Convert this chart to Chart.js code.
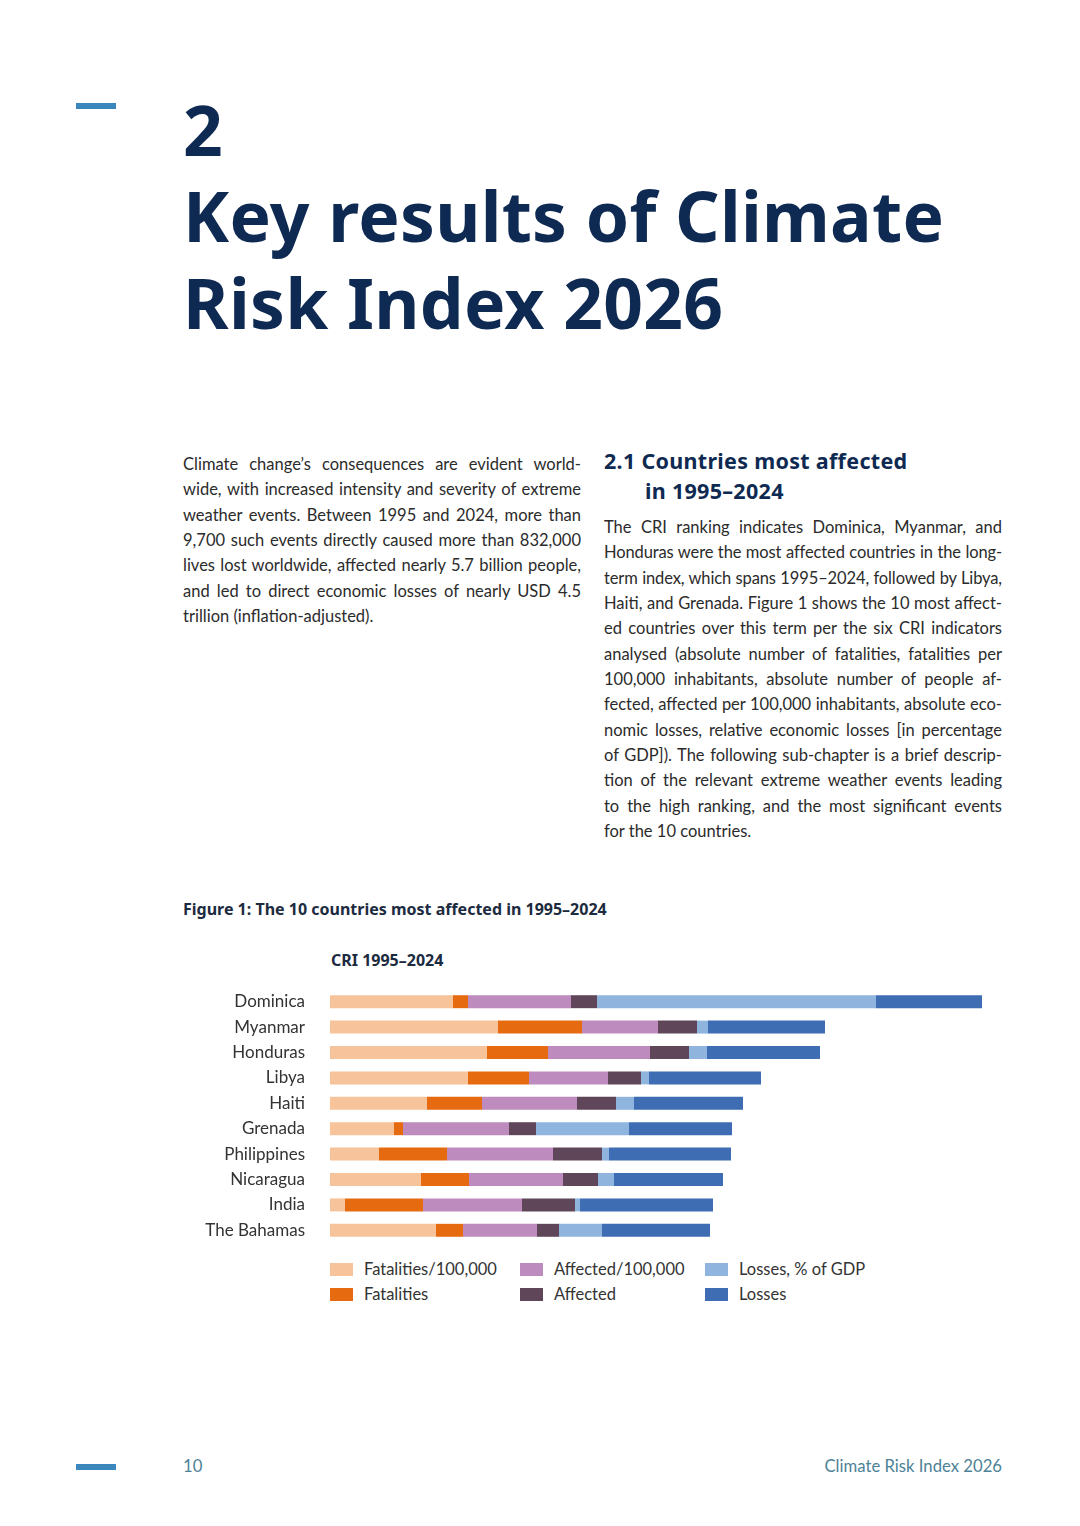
<!DOCTYPE html>
<html>
<head>
<meta charset="utf-8">
<script src="https://cdn.jsdelivr.net/npm/chart.js@4.4.1/dist/chart.umd.min.js"></script>
<style>
  html, body { margin: 0; padding: 0; background: #fff; }
  body { width: 1080px; height: 1526px; position: relative; overflow: hidden; font-family: "Lato", "Noto Sans", sans-serif; color: #2b2b2b; }
  .abs { position: absolute; }
  .dash { position: absolute; left: 76px; width: 40px; height: 6px; background: #3a87be; }
  .title { font-family: "Noto Sans", sans-serif; font-weight: 700; color: #0f2a52; left: 183px; white-space: nowrap; letter-spacing: 0.3px; }
  .para { position: absolute; width: 398px; font-size: 16.5px; line-height: 25.35px; }
  .para div { text-align: justify; text-align-last: justify; white-space: nowrap; height: 25.35px; }
  .para div.last { text-align-last: left; }
  .para div.tight { letter-spacing: -0.12px; word-spacing: -1px; }
  .h2 { font-family: "Noto Sans", sans-serif; font-weight: 700; color: #0f2a52; font-size: 21.5px; line-height: 30px; letter-spacing: 0.3px; white-space: nowrap; }
  .fig { font-family: "Noto Sans", sans-serif; font-weight: 700; color: #1d2b40; font-size: 16px; line-height: 22px; }
  #legend { position: absolute; left: 330px; top: 1258px; width: 600px; height: 50px; }
  .lg { position: absolute; font-size: 16.5px; color: #333; white-space: nowrap; }
  .lg span.box { position: absolute; left: 0; top: 5px; width: 23px; height: 13px; }
  .lg span.txt { position: absolute; left: 34px; top: 0; line-height: 22px; }
  .foot { font-size: 16.7px; color: #4d8296; }
</style>
</head>
<body>
<div class="dash" style="top:103px"></div>
<div class="abs title" style="top:84px;font-size:69.5px;line-height:90px">2</div>
<div class="abs title" style="top:172px;font-size:69.5px;line-height:87px">Key results of Climate<br>Risk Index 2026</div>

<div class="para" style="left:183px;top:452px">
  <div>Climate change’s consequences are evident world-</div>
  <div>wide, with increased intensity and severity of extreme</div>
  <div>weather events. Between 1995 and 2024, more than</div>
  <div>9,700 such events directly caused more than 832,000</div>
  <div>lives lost worldwide, affected nearly 5.7 billion people,</div>
  <div>and led to direct economic losses of nearly USD 4.5</div>
  <div class="last">trillion (inflation-adjusted).</div>
</div>

<div class="abs h2" style="left:604px;top:446px">2.1 Countries most affected</div>
<div class="abs h2" style="left:645px;top:476px">in 1995–2024</div>

<div class="para" style="left:604px;top:515px">
  <div>The CRI ranking indicates Dominica, Myanmar, and</div>
  <div class="tight">Honduras were the most affected countries in the long-</div>
  <div class="tight">term index, which spans 1995–2024, followed by Libya,</div>
  <div>Haiti, and Grenada. Figure 1 shows the 10 most affect-</div>
  <div>ed countries over this term per the six CRI indicators</div>
  <div>analysed (absolute number of fatalities, fatalities per</div>
  <div>100,000 inhabitants, absolute number of people af-</div>
  <div>fected, affected per 100,000 inhabitants, absolute eco-</div>
  <div>nomic losses, relative economic losses [in percentage</div>
  <div>of GDP]). The following sub-chapter is a brief descrip-</div>
  <div>tion of the relevant extreme weather events leading</div>
  <div>to the high ranking, and the most significant events</div>
  <div class="last">for the 10 countries.</div>
</div>

<div class="abs fig" style="left:183px;top:898px">Figure 1: The 10 countries most affected in 1995–2024</div>
<div class="abs fig" style="left:331px;top:949px">CRI 1995–2024</div>

<div class="abs" style="left:180px;top:989px;width:820px;height:254px">
  <canvas id="chart"></canvas>
</div>
<div id="legend"></div>

<div class="dash" style="top:1464px"></div>
<div class="abs foot" style="left:183px;top:1456px">10</div>
<div class="abs foot" style="right:78px;top:1456px">Climate Risk Index 2026</div>

<script>
const countries = ["Dominica", "Myanmar", "Honduras", "Libya", "Haiti", "Grenada", "Philippines", "Nicaragua", "India", "The Bahamas"];
const fatalitiesPer100k = [123, 168, 157, 138, 97, 64, 49, 91, 15, 106];
const fatalities = [15, 84, 61, 61, 55, 9, 68, 48, 78, 27];
const affectedPer100k = [103, 76, 102, 79, 95, 106, 106, 94, 99, 74];
const affected = [26, 39, 39, 33, 39, 27, 49, 35, 53, 22];
const lossesGdp = [279, 11, 18, 8, 18, 93, 7, 16, 5, 43];
const losses = [106, 117, 113, 112, 109, 103, 122, 109, 133, 108];

const seriesLabels = ["Fatalities/100,000", "Fatalities", "Affected/100,000", "Affected", "Losses, % of GDP", "Losses"];
const seriesColors = ["#f7c39a", "#e56a10", "#bd8bbd", "#5f4659", "#8fb5df", "#3e6db4"];
const seriesData = [fatalitiesPer100k, fatalities, affectedPer100k, affected, lossesGdp, losses];

const ctx = document.getElementById("chart");
const chart = new Chart(ctx, {
  type: "bar",
  data: {
    labels: countries,
    datasets: seriesData.map((d, i) => ({
      label: seriesLabels[i],
      data: d,
      backgroundColor: seriesColors[i],
      borderWidth: 0,
      categoryPercentage: 1,
      barPercentage: 0.51
    }))
  },
  options: {
    indexAxis: "y",
    responsive: true,
    maintainAspectRatio: false,
    animation: false,
    layout: { padding: 0 },
    plugins: { legend: { display: false }, tooltip: { enabled: false } },
    scales: {
      x: { stacked: true, display: false, min: 0, max: 670 },
      y: {
        stacked: true,
        grid: { display: false, drawTicks: false },
        border: { display: false },
        ticks: { padding: 25, color: "#333", font: { family: "Lato", size: 17 } },
        afterFit: (scale) => {
          scale.width = 150;
          // tick padding would otherwise also shrink the plot vertically
          scale.paddingTop = 0;
          scale.paddingBottom = 0;
        }
      }
    }
  }
});

// legend in three columns, two rows, built from the chart datasets
const legendEl = document.getElementById("legend");
const colX = [0, 190, 375];
chart.data.datasets.forEach((ds, i) => {
  const item = document.createElement("div");
  item.className = "lg";
  item.style.left = colX[Math.floor(i / 2)] + "px";
  item.style.top = (i % 2) * 25 + "px";
  item.innerHTML = '<span class="box" style="background:' + ds.backgroundColor + '"></span><span class="txt">' + ds.label + '</span>';
  legendEl.appendChild(item);
});
</script>
</body>
</html>
